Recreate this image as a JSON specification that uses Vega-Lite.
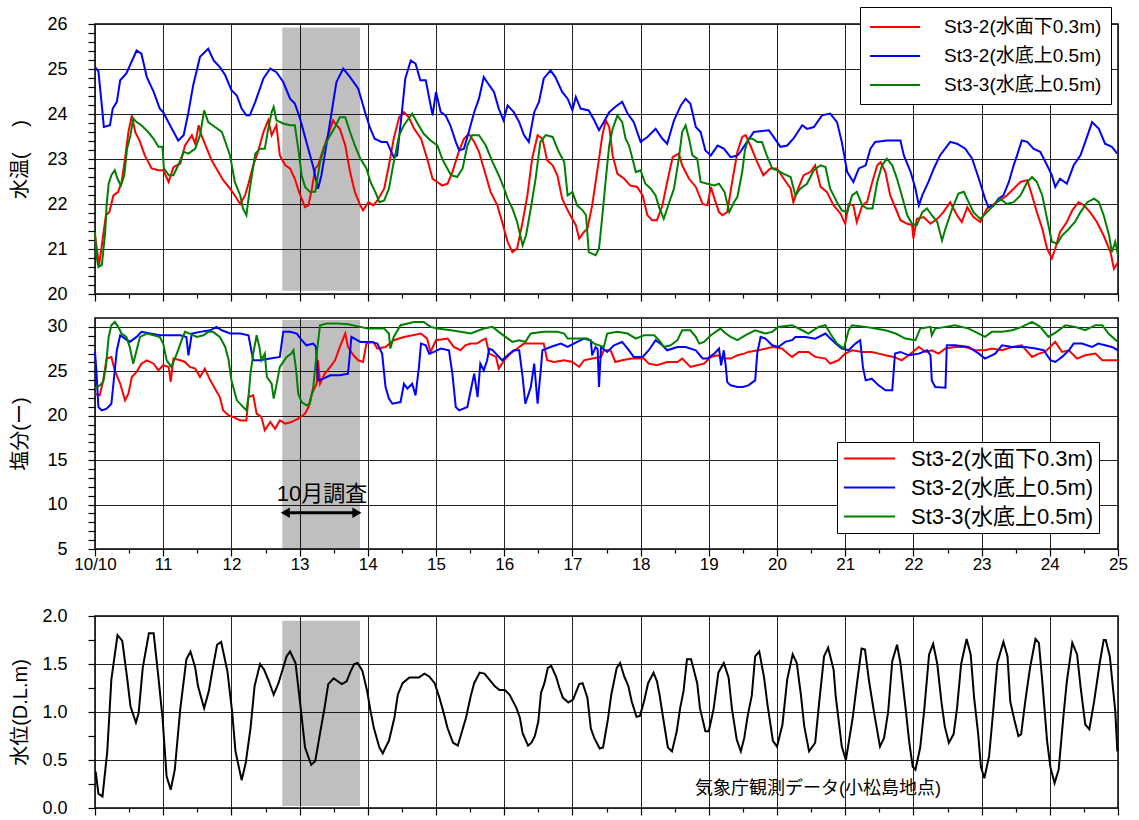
{
"$schema": "https://vega.github.io/schema/vega-lite/v6.json",
"background": "white",
"padding": {"left": 9, "top": 5, "right": 5, "bottom": 0},
"spacing": 13,
"config": {
  "font": "'Liberation Sans', 'Noto Sans CJK JP', sans-serif",
  "view": {"stroke": "#000", "strokeWidth": 1.5},
  "axis": {"labelFontSize": 18, "labelColor": "#000", "labelOverlap": false, "labelFlush": false, "tickColor": "#000", "tickWidth": 1.2, "domain": false, "titleFontSize": 20, "titleFontWeight": "normal", "titleColor": "#000", "gridColor": "#222", "gridWidth": 1},
  "legend": {"labelLimit": 400}
},
"resolve": {"scale": {"color": "independent"}, "legend": {"color": "independent"}},
"datasets": {
"shadeT": [{"t": 12.746, "t2": 13.886, "v": 20.07, "v2": 25.92}],
"shadeM": [{"t": 12.746, "t2": 13.886, "v": 5.0, "v2": 30.78}],
"shadeB": [{"t": 12.746, "t2": 13.886, "v": 0.02, "v2": 1.95}],
"tR": [{"t":10.0,"v":21.3},{"t":10.03,"v":20.97},{"t":10.06,"v":20.64},{"t":10.1,"v":21.08},{"t":10.16,"v":21.75},{"t":10.21,"v":21.82},{"t":10.27,"v":22.19},{"t":10.34,"v":22.27},{"t":10.39,"v":22.49},{"t":10.44,"v":23.01},{"t":10.49,"v":23.6},{"t":10.54,"v":23.97},{"t":10.59,"v":23.6},{"t":10.66,"v":23.38},{"t":10.73,"v":23.08},{"t":10.83,"v":22.79},{"t":10.93,"v":22.75},{"t":11.0,"v":22.75},{"t":11.08,"v":22.49},{"t":11.15,"v":22.82},{"t":11.25,"v":22.9},{"t":11.32,"v":23.3},{"t":11.42,"v":23.53},{"t":11.47,"v":23.34},{"t":11.52,"v":23.75},{"t":11.56,"v":23.53},{"t":11.64,"v":23.23},{"t":11.71,"v":22.97},{"t":11.78,"v":22.79},{"t":11.88,"v":22.53},{"t":11.98,"v":22.34},{"t":12.05,"v":22.19},{"t":12.13,"v":22.0},{"t":12.2,"v":22.19},{"t":12.25,"v":22.45},{"t":12.32,"v":22.86},{"t":12.39,"v":23.16},{"t":12.47,"v":23.6},{"t":12.54,"v":23.86},{"t":12.59,"v":23.53},{"t":12.66,"v":23.75},{"t":12.71,"v":23.08},{"t":12.79,"v":22.86},{"t":12.86,"v":22.79},{"t":12.93,"v":22.56},{"t":13.0,"v":22.23},{"t":13.08,"v":21.93},{"t":13.13,"v":21.97},{"t":13.18,"v":22.34},{"t":13.23,"v":22.79},{"t":13.27,"v":22.86},{"t":13.35,"v":23.23},{"t":13.42,"v":23.53},{"t":13.49,"v":23.86},{"t":13.54,"v":23.75},{"t":13.59,"v":23.67},{"t":13.67,"v":23.3},{"t":13.74,"v":22.71},{"t":13.81,"v":22.27},{"t":13.89,"v":21.97},{"t":13.93,"v":21.86},{"t":14.01,"v":22.04},{"t":14.08,"v":21.97},{"t":14.14,"v":22.08},{"t":14.24,"v":22.34},{"t":14.31,"v":22.86},{"t":14.38,"v":23.45},{"t":14.46,"v":23.93},{"t":14.53,"v":24.04},{"t":14.6,"v":23.93},{"t":14.68,"v":23.67},{"t":14.78,"v":23.45},{"t":14.87,"v":23.01},{"t":14.95,"v":22.56},{"t":15.02,"v":22.49},{"t":15.09,"v":22.41},{"t":15.17,"v":22.45},{"t":15.24,"v":22.71},{"t":15.34,"v":23.19},{"t":15.41,"v":23.45},{"t":15.48,"v":23.56},{"t":15.56,"v":23.38},{"t":15.63,"v":23.16},{"t":15.73,"v":22.64},{"t":15.8,"v":22.27},{"t":15.9,"v":21.97},{"t":15.97,"v":21.6},{"t":16.05,"v":21.16},{"t":16.12,"v":20.93},{"t":16.19,"v":21.01},{"t":16.27,"v":21.6},{"t":16.34,"v":22.19},{"t":16.41,"v":23.01},{"t":16.49,"v":23.53},{"t":16.56,"v":23.45},{"t":16.63,"v":22.97},{"t":16.71,"v":22.86},{"t":16.78,"v":22.64},{"t":16.85,"v":22.12},{"t":16.93,"v":21.86},{"t":16.97,"v":21.75},{"t":17.05,"v":21.53},{"t":17.1,"v":21.23},{"t":17.17,"v":21.38},{"t":17.22,"v":21.45},{"t":17.29,"v":21.97},{"t":17.37,"v":22.79},{"t":17.44,"v":23.53},{"t":17.49,"v":23.86},{"t":17.54,"v":23.71},{"t":17.59,"v":23.08},{"t":17.66,"v":22.67},{"t":17.76,"v":22.56},{"t":17.85,"v":22.41},{"t":17.95,"v":22.38},{"t":18.03,"v":22.19},{"t":18.1,"v":21.75},{"t":18.17,"v":21.64},{"t":18.24,"v":21.64},{"t":18.32,"v":21.97},{"t":18.39,"v":22.49},{"t":18.47,"v":23.04},{"t":18.56,"v":23.12},{"t":18.61,"v":22.86},{"t":18.71,"v":22.56},{"t":18.81,"v":22.38},{"t":18.91,"v":22.0},{"t":18.98,"v":21.97},{"t":19.03,"v":22.38},{"t":19.1,"v":22.04},{"t":19.15,"v":21.82},{"t":19.2,"v":21.75},{"t":19.27,"v":21.82},{"t":19.35,"v":22.56},{"t":19.42,"v":23.16},{"t":19.49,"v":23.49},{"t":19.54,"v":23.53},{"t":19.61,"v":23.3},{"t":19.71,"v":22.93},{"t":19.8,"v":22.64},{"t":19.9,"v":22.79},{"t":20.0,"v":22.79},{"t":20.1,"v":22.56},{"t":20.2,"v":22.34},{"t":20.24,"v":22.04},{"t":20.32,"v":22.38},{"t":20.39,"v":22.64},{"t":20.49,"v":22.71},{"t":20.56,"v":22.86},{"t":20.64,"v":22.38},{"t":20.73,"v":22.27},{"t":20.83,"v":21.97},{"t":20.93,"v":21.79},{"t":21.0,"v":21.56},{"t":21.05,"v":22.0},{"t":21.12,"v":21.97},{"t":21.17,"v":21.6},{"t":21.25,"v":21.97},{"t":21.32,"v":22.04},{"t":21.39,"v":22.45},{"t":21.47,"v":22.86},{"t":21.52,"v":22.93},{"t":21.59,"v":22.71},{"t":21.66,"v":22.19},{"t":21.74,"v":21.9},{"t":21.81,"v":21.64},{"t":21.91,"v":21.56},{"t":21.98,"v":21.53},{"t":22.0,"v":21.23},{"t":22.05,"v":21.67},{"t":22.15,"v":21.71},{"t":22.25,"v":21.56},{"t":22.35,"v":21.67},{"t":22.44,"v":21.82},{"t":22.54,"v":22.04},{"t":22.64,"v":21.75},{"t":22.71,"v":21.6},{"t":22.79,"v":21.93},{"t":22.88,"v":21.71},{"t":22.98,"v":21.6},{"t":23.08,"v":21.9},{"t":23.18,"v":22.0},{"t":23.27,"v":22.08},{"t":23.37,"v":22.19},{"t":23.47,"v":22.34},{"t":23.57,"v":22.49},{"t":23.67,"v":22.53},{"t":23.74,"v":22.19},{"t":23.81,"v":21.82},{"t":23.89,"v":21.45},{"t":23.96,"v":21.01},{"t":24.03,"v":20.79},{"t":24.08,"v":21.01},{"t":24.15,"v":21.38},{"t":24.25,"v":21.6},{"t":24.33,"v":21.86},{"t":24.42,"v":22.04},{"t":24.5,"v":21.97},{"t":24.59,"v":21.82},{"t":24.69,"v":21.6},{"t":24.79,"v":21.3},{"t":24.89,"v":20.93},{"t":24.94,"v":20.56},{"t":25.0,"v":20.71}],
"tB": [{"t":10.0,"v":25.04},{"t":10.05,"v":24.95},{"t":10.1,"v":24.19},{"t":10.13,"v":23.71},{"t":10.22,"v":23.75},{"t":10.26,"v":24.12},{"t":10.32,"v":24.27},{"t":10.37,"v":24.75},{"t":10.46,"v":24.9},{"t":10.61,"v":25.41},{"t":10.68,"v":25.34},{"t":10.76,"v":24.82},{"t":10.86,"v":24.49},{"t":10.95,"v":24.12},{"t":11.0,"v":24.04},{"t":11.1,"v":23.75},{"t":11.22,"v":23.41},{"t":11.3,"v":23.53},{"t":11.37,"v":24.04},{"t":11.44,"v":24.64},{"t":11.54,"v":25.27},{"t":11.66,"v":25.45},{"t":11.74,"v":25.19},{"t":11.83,"v":25.04},{"t":11.91,"v":24.86},{"t":12.0,"v":24.53},{"t":12.08,"v":24.41},{"t":12.15,"v":24.12},{"t":12.22,"v":23.97},{"t":12.27,"v":23.97},{"t":12.35,"v":24.27},{"t":12.47,"v":24.79},{"t":12.57,"v":25.01},{"t":12.66,"v":24.93},{"t":12.76,"v":24.71},{"t":12.86,"v":24.34},{"t":12.93,"v":24.23},{"t":13.0,"v":23.93},{"t":13.1,"v":23.38},{"t":13.2,"v":22.82},{"t":13.27,"v":22.34},{"t":13.32,"v":22.64},{"t":13.4,"v":23.38},{"t":13.47,"v":24.04},{"t":13.54,"v":24.71},{"t":13.64,"v":25.01},{"t":13.74,"v":24.82},{"t":13.86,"v":24.56},{"t":13.96,"v":24.04},{"t":14.03,"v":23.7},{"t":14.1,"v":23.45},{"t":14.2,"v":23.38},{"t":14.28,"v":23.38},{"t":14.38,"v":23.04},{"t":14.43,"v":23.08},{"t":14.5,"v":24.04},{"t":14.55,"v":24.79},{"t":14.63,"v":25.19},{"t":14.7,"v":25.12},{"t":14.77,"v":24.75},{"t":14.85,"v":24.75},{"t":14.95,"v":23.97},{"t":15.0,"v":24.49},{"t":15.07,"v":24.04},{"t":15.14,"v":23.97},{"t":15.21,"v":23.75},{"t":15.29,"v":23.38},{"t":15.34,"v":23.19},{"t":15.41,"v":23.23},{"t":15.48,"v":23.6},{"t":15.56,"v":24.04},{"t":15.63,"v":24.34},{"t":15.7,"v":24.82},{"t":15.78,"v":24.64},{"t":15.85,"v":24.49},{"t":15.92,"v":24.12},{"t":15.99,"v":23.86},{"t":16.05,"v":24.19},{"t":16.14,"v":24.04},{"t":16.22,"v":23.82},{"t":16.29,"v":23.53},{"t":16.36,"v":23.38},{"t":16.44,"v":24.04},{"t":16.51,"v":24.27},{"t":16.58,"v":24.79},{"t":16.68,"v":24.97},{"t":16.75,"v":24.82},{"t":16.85,"v":24.49},{"t":16.93,"v":24.34},{"t":17.0,"v":24.08},{"t":17.05,"v":24.38},{"t":17.12,"v":24.12},{"t":17.24,"v":24.08},{"t":17.32,"v":23.86},{"t":17.39,"v":23.64},{"t":17.46,"v":23.82},{"t":17.54,"v":24.04},{"t":17.63,"v":24.16},{"t":17.73,"v":24.27},{"t":17.81,"v":24.01},{"t":17.9,"v":23.82},{"t":18.0,"v":23.38},{"t":18.1,"v":23.49},{"t":18.22,"v":23.67},{"t":18.32,"v":23.45},{"t":18.39,"v":23.34},{"t":18.49,"v":23.86},{"t":18.59,"v":24.19},{"t":18.66,"v":24.34},{"t":18.73,"v":24.23},{"t":18.81,"v":23.71},{"t":18.88,"v":23.6},{"t":18.95,"v":23.19},{"t":19.03,"v":23.08},{"t":19.13,"v":23.3},{"t":19.22,"v":23.23},{"t":19.32,"v":23.04},{"t":19.42,"v":23.08},{"t":19.46,"v":23.15},{"t":19.56,"v":23.38},{"t":19.66,"v":23.6},{"t":19.88,"v":23.64},{"t":19.95,"v":23.49},{"t":20.05,"v":23.27},{"t":20.15,"v":23.3},{"t":20.24,"v":23.45},{"t":20.37,"v":23.75},{"t":20.44,"v":23.67},{"t":20.54,"v":23.71},{"t":20.66,"v":23.97},{"t":20.78,"v":24.01},{"t":20.88,"v":23.82},{"t":20.95,"v":23.38},{"t":21.03,"v":22.71},{"t":21.12,"v":22.49},{"t":21.2,"v":22.79},{"t":21.3,"v":22.86},{"t":21.37,"v":23.23},{"t":21.44,"v":23.38},{"t":21.61,"v":23.41},{"t":21.81,"v":23.41},{"t":21.86,"v":23.08},{"t":21.96,"v":22.71},{"t":22.03,"v":22.34},{"t":22.08,"v":21.97},{"t":22.13,"v":22.19},{"t":22.22,"v":22.49},{"t":22.3,"v":22.79},{"t":22.39,"v":23.08},{"t":22.54,"v":23.38},{"t":22.64,"v":23.34},{"t":22.76,"v":23.23},{"t":22.86,"v":23.01},{"t":22.96,"v":22.56},{"t":23.05,"v":22.12},{"t":23.1,"v":21.93},{"t":23.18,"v":21.97},{"t":23.25,"v":22.12},{"t":23.32,"v":22.19},{"t":23.4,"v":22.49},{"t":23.47,"v":22.86},{"t":23.52,"v":23.08},{"t":23.59,"v":23.41},{"t":23.67,"v":23.38},{"t":23.76,"v":23.23},{"t":23.86,"v":23.16},{"t":23.96,"v":22.86},{"t":24.03,"v":22.64},{"t":24.08,"v":22.38},{"t":24.15,"v":22.56},{"t":24.25,"v":22.45},{"t":24.35,"v":22.86},{"t":24.45,"v":23.08},{"t":24.52,"v":23.38},{"t":24.62,"v":23.82},{"t":24.72,"v":23.67},{"t":24.81,"v":23.34},{"t":24.91,"v":23.27},{"t":24.99,"v":23.12}],
"tG": [{"t":10.0,"v":21.38},{"t":10.02,"v":20.86},{"t":10.05,"v":20.6},{"t":10.1,"v":20.64},{"t":10.15,"v":21.38},{"t":10.17,"v":21.97},{"t":10.2,"v":22.45},{"t":10.24,"v":22.64},{"t":10.29,"v":22.75},{"t":10.33,"v":22.56},{"t":10.38,"v":22.41},{"t":10.43,"v":22.64},{"t":10.47,"v":23.23},{"t":10.52,"v":23.53},{"t":10.56,"v":23.9},{"t":10.61,"v":23.82},{"t":10.68,"v":23.75},{"t":10.78,"v":23.6},{"t":10.86,"v":23.45},{"t":10.93,"v":23.27},{"t":10.99,"v":23.27},{"t":11.01,"v":22.79},{"t":11.08,"v":22.64},{"t":11.15,"v":22.64},{"t":11.22,"v":22.86},{"t":11.3,"v":23.16},{"t":11.37,"v":23.12},{"t":11.47,"v":23.23},{"t":11.54,"v":23.53},{"t":11.6,"v":24.08},{"t":11.66,"v":23.82},{"t":11.76,"v":23.71},{"t":11.86,"v":23.6},{"t":11.93,"v":23.3},{"t":11.98,"v":23.08},{"t":12.05,"v":22.49},{"t":12.13,"v":22.19},{"t":12.17,"v":21.9},{"t":12.22,"v":21.75},{"t":12.27,"v":22.34},{"t":12.35,"v":23.12},{"t":12.42,"v":23.23},{"t":12.49,"v":23.23},{"t":12.54,"v":23.67},{"t":12.59,"v":24.04},{"t":12.62,"v":24.16},{"t":12.66,"v":23.86},{"t":12.76,"v":23.79},{"t":12.86,"v":23.75},{"t":12.93,"v":23.75},{"t":12.98,"v":23.23},{"t":13.03,"v":22.64},{"t":13.08,"v":22.38},{"t":13.15,"v":22.27},{"t":13.23,"v":22.27},{"t":13.3,"v":22.93},{"t":13.37,"v":23.3},{"t":13.45,"v":23.53},{"t":13.52,"v":23.71},{"t":13.59,"v":23.93},{"t":13.67,"v":23.93},{"t":13.74,"v":23.6},{"t":13.81,"v":23.3},{"t":13.89,"v":23.01},{"t":13.98,"v":22.79},{"t":14.04,"v":22.49},{"t":14.12,"v":22.23},{"t":14.17,"v":22.04},{"t":14.24,"v":22.08},{"t":14.31,"v":22.34},{"t":14.38,"v":22.93},{"t":14.46,"v":23.53},{"t":14.53,"v":23.75},{"t":14.65,"v":24.01},{"t":14.73,"v":23.79},{"t":14.82,"v":23.56},{"t":14.92,"v":23.41},{"t":15.02,"v":23.3},{"t":15.09,"v":23.01},{"t":15.14,"v":22.86},{"t":15.22,"v":22.64},{"t":15.31,"v":22.6},{"t":15.39,"v":22.79},{"t":15.46,"v":23.3},{"t":15.53,"v":23.53},{"t":15.63,"v":23.53},{"t":15.73,"v":23.3},{"t":15.83,"v":22.93},{"t":15.92,"v":22.64},{"t":16.0,"v":22.34},{"t":16.05,"v":22.12},{"t":16.12,"v":21.9},{"t":16.19,"v":21.6},{"t":16.27,"v":21.08},{"t":16.32,"v":21.3},{"t":16.39,"v":21.9},{"t":16.46,"v":22.56},{"t":16.53,"v":23.38},{"t":16.61,"v":23.53},{"t":16.71,"v":23.49},{"t":16.8,"v":23.16},{"t":16.88,"v":22.93},{"t":16.93,"v":22.19},{"t":17.0,"v":22.27},{"t":17.07,"v":21.97},{"t":17.15,"v":21.86},{"t":17.2,"v":21.75},{"t":17.24,"v":20.93},{"t":17.34,"v":20.86},{"t":17.39,"v":21.01},{"t":17.44,"v":21.75},{"t":17.49,"v":22.56},{"t":17.54,"v":23.3},{"t":17.59,"v":23.67},{"t":17.66,"v":23.97},{"t":17.73,"v":23.82},{"t":17.78,"v":23.45},{"t":17.83,"v":23.3},{"t":17.88,"v":23.01},{"t":17.93,"v":22.71},{"t":18.0,"v":22.75},{"t":18.07,"v":22.45},{"t":18.15,"v":22.34},{"t":18.22,"v":22.19},{"t":18.27,"v":21.93},{"t":18.34,"v":21.67},{"t":18.42,"v":22.04},{"t":18.49,"v":22.34},{"t":18.56,"v":23.01},{"t":18.61,"v":23.6},{"t":18.66,"v":23.75},{"t":18.71,"v":23.45},{"t":18.76,"v":23.08},{"t":18.83,"v":23.01},{"t":18.88,"v":22.49},{"t":18.98,"v":22.45},{"t":19.08,"v":22.41},{"t":19.15,"v":22.45},{"t":19.23,"v":22.27},{"t":19.3,"v":21.82},{"t":19.37,"v":22.04},{"t":19.42,"v":22.16},{"t":19.49,"v":22.71},{"t":19.53,"v":23.2},{"t":19.58,"v":23.45},{"t":19.64,"v":23.45},{"t":19.71,"v":23.38},{"t":19.78,"v":23.38},{"t":19.85,"v":23.08},{"t":19.93,"v":22.79},{"t":20.0,"v":22.75},{"t":20.1,"v":22.67},{"t":20.2,"v":22.6},{"t":20.27,"v":22.19},{"t":20.34,"v":22.34},{"t":20.44,"v":22.45},{"t":20.54,"v":22.75},{"t":20.64,"v":22.86},{"t":20.71,"v":22.82},{"t":20.78,"v":22.34},{"t":20.88,"v":22.04},{"t":20.95,"v":21.86},{"t":21.03,"v":21.82},{"t":21.1,"v":22.19},{"t":21.17,"v":22.27},{"t":21.25,"v":21.97},{"t":21.32,"v":21.9},{"t":21.4,"v":21.9},{"t":21.47,"v":22.49},{"t":21.54,"v":22.86},{"t":21.61,"v":23.01},{"t":21.69,"v":22.86},{"t":21.76,"v":22.56},{"t":21.83,"v":22.19},{"t":21.91,"v":21.75},{"t":21.98,"v":21.56},{"t":22.05,"v":21.53},{"t":22.13,"v":21.82},{"t":22.2,"v":21.9},{"t":22.27,"v":21.75},{"t":22.35,"v":21.6},{"t":22.42,"v":21.19},{"t":22.47,"v":21.45},{"t":22.57,"v":21.9},{"t":22.66,"v":22.23},{"t":22.74,"v":22.27},{"t":22.81,"v":22.04},{"t":22.88,"v":21.82},{"t":22.98,"v":21.67},{"t":23.08,"v":21.82},{"t":23.18,"v":21.97},{"t":23.27,"v":22.12},{"t":23.37,"v":22.0},{"t":23.47,"v":22.04},{"t":23.57,"v":22.19},{"t":23.67,"v":22.49},{"t":23.74,"v":22.6},{"t":23.81,"v":22.49},{"t":23.89,"v":22.19},{"t":23.96,"v":21.67},{"t":24.03,"v":21.16},{"t":24.11,"v":21.12},{"t":24.18,"v":21.3},{"t":24.28,"v":21.45},{"t":24.37,"v":21.6},{"t":24.45,"v":21.82},{"t":24.55,"v":22.04},{"t":24.65,"v":22.12},{"t":24.72,"v":22.04},{"t":24.79,"v":21.75},{"t":24.87,"v":21.3},{"t":24.91,"v":20.93},{"t":24.96,"v":21.16},{"t":25.0,"v":20.86}],
"sR": [{"t":10.0,"v":22.48},{"t":10.07,"v":22.3},{"t":10.12,"v":23.98},{"t":10.17,"v":26.43},{"t":10.24,"v":26.6},{"t":10.29,"v":25.1},{"t":10.37,"v":23.6},{"t":10.44,"v":21.73},{"t":10.49,"v":22.48},{"t":10.54,"v":24.36},{"t":10.61,"v":24.92},{"t":10.68,"v":25.86},{"t":10.76,"v":26.24},{"t":10.86,"v":25.86},{"t":10.93,"v":25.1},{"t":11.0,"v":25.68},{"t":11.08,"v":25.49},{"t":11.11,"v":23.8},{"t":11.15,"v":26.43},{"t":11.25,"v":26.24},{"t":11.32,"v":26.05},{"t":11.39,"v":25.49},{"t":11.47,"v":25.3},{"t":11.54,"v":24.36},{"t":11.61,"v":25.3},{"t":11.69,"v":23.98},{"t":11.76,"v":23.05},{"t":11.83,"v":22.1},{"t":11.88,"v":20.6},{"t":11.96,"v":20.04},{"t":12.03,"v":19.85},{"t":12.13,"v":19.47},{"t":12.22,"v":19.47},{"t":12.25,"v":22.1},{"t":12.32,"v":22.3},{"t":12.37,"v":20.23},{"t":12.44,"v":19.85},{"t":12.49,"v":18.35},{"t":12.57,"v":19.29},{"t":12.64,"v":18.53},{"t":12.71,"v":19.47},{"t":12.79,"v":19.1},{"t":12.88,"v":19.29},{"t":12.98,"v":19.66},{"t":13.08,"v":20.23},{"t":13.13,"v":20.98},{"t":13.18,"v":22.48},{"t":13.25,"v":23.6},{"t":13.27,"v":26.24},{"t":13.3,"v":23.6},{"t":13.37,"v":24.74},{"t":13.45,"v":25.49},{"t":13.52,"v":26.24},{"t":13.59,"v":27.74},{"t":13.67,"v":29.25},{"t":13.71,"v":27.74},{"t":13.79,"v":26.8},{"t":13.86,"v":26.24},{"t":13.93,"v":26.05},{"t":13.98,"v":28.12},{"t":14.08,"v":28.31},{"t":14.14,"v":27.56},{"t":14.26,"v":27.74},{"t":14.38,"v":28.5},{"t":14.53,"v":28.87},{"t":14.78,"v":29.25},{"t":14.87,"v":28.68},{"t":14.92,"v":27.18},{"t":15.0,"v":28.5},{"t":15.17,"v":28.68},{"t":15.26,"v":27.74},{"t":15.36,"v":27.37},{"t":15.43,"v":27.93},{"t":15.51,"v":28.12},{"t":15.6,"v":28.12},{"t":15.68,"v":28.5},{"t":15.73,"v":28.68},{"t":15.78,"v":26.99},{"t":15.88,"v":26.62},{"t":15.92,"v":25.3},{"t":16.0,"v":26.24},{"t":16.09,"v":26.99},{"t":16.19,"v":27.56},{"t":16.29,"v":28.12},{"t":16.44,"v":28.12},{"t":16.58,"v":28.12},{"t":16.63,"v":26.24},{"t":16.73,"v":26.05},{"t":16.88,"v":26.24},{"t":17.0,"v":26.05},{"t":17.1,"v":25.49},{"t":17.17,"v":26.24},{"t":17.29,"v":26.43},{"t":17.42,"v":26.62},{"t":17.46,"v":27.37},{"t":17.56,"v":27.37},{"t":17.63,"v":26.05},{"t":17.73,"v":26.24},{"t":17.86,"v":26.43},{"t":18.05,"v":26.43},{"t":18.12,"v":25.86},{"t":18.24,"v":25.68},{"t":18.39,"v":26.05},{"t":18.54,"v":26.05},{"t":18.61,"v":26.43},{"t":18.73,"v":25.49},{"t":18.83,"v":25.68},{"t":18.93,"v":25.86},{"t":19.03,"v":26.62},{"t":19.13,"v":26.8},{"t":19.22,"v":26.43},{"t":19.32,"v":26.43},{"t":19.42,"v":26.8},{"t":19.52,"v":26.99},{"t":19.58,"v":27.18},{"t":19.73,"v":27.37},{"t":19.93,"v":27.74},{"t":20.07,"v":27.56},{"t":20.22,"v":26.62},{"t":20.32,"v":27.18},{"t":20.46,"v":27.18},{"t":20.56,"v":26.62},{"t":20.71,"v":26.43},{"t":20.78,"v":25.86},{"t":20.9,"v":26.24},{"t":21.0,"v":26.99},{"t":21.1,"v":27.37},{"t":21.25,"v":27.18},{"t":21.39,"v":27.18},{"t":21.49,"v":26.99},{"t":21.59,"v":26.8},{"t":21.71,"v":26.62},{"t":21.83,"v":26.24},{"t":21.93,"v":26.8},{"t":22.08,"v":27.74},{"t":22.18,"v":27.18},{"t":22.27,"v":27.37},{"t":22.37,"v":26.99},{"t":22.47,"v":27.56},{"t":22.61,"v":27.74},{"t":22.76,"v":27.74},{"t":22.91,"v":27.37},{"t":23.05,"v":27.37},{"t":23.15,"v":27.56},{"t":23.3,"v":27.37},{"t":23.45,"v":27.74},{"t":23.59,"v":27.93},{"t":23.74,"v":26.62},{"t":23.84,"v":26.99},{"t":23.93,"v":27.18},{"t":24.08,"v":28.31},{"t":24.18,"v":27.18},{"t":24.28,"v":27.37},{"t":24.4,"v":26.43},{"t":24.52,"v":26.8},{"t":24.67,"v":26.99},{"t":24.77,"v":26.24},{"t":25.0,"v":26.24}],
"sB": [{"t":10.0,"v":27.18},{"t":10.02,"v":25.1},{"t":10.05,"v":20.98},{"t":10.1,"v":20.6},{"t":10.17,"v":20.79},{"t":10.24,"v":21.35},{"t":10.27,"v":23.6},{"t":10.32,"v":27.37},{"t":10.37,"v":29.06},{"t":10.44,"v":28.68},{"t":10.51,"v":28.31},{"t":10.61,"v":28.87},{"t":10.68,"v":29.44},{"t":10.81,"v":29.25},{"t":10.95,"v":29.06},{"t":11.25,"v":29.06},{"t":11.34,"v":28.87},{"t":11.37,"v":26.8},{"t":11.42,"v":29.25},{"t":11.54,"v":29.44},{"t":11.69,"v":29.62},{"t":11.78,"v":30.0},{"t":11.86,"v":29.62},{"t":11.98,"v":29.25},{"t":12.13,"v":29.25},{"t":12.25,"v":29.06},{"t":12.32,"v":26.24},{"t":12.42,"v":26.24},{"t":12.57,"v":26.43},{"t":12.71,"v":26.62},{"t":12.76,"v":29.44},{"t":12.86,"v":29.44},{"t":12.96,"v":29.25},{"t":13.03,"v":28.5},{"t":13.1,"v":27.93},{"t":13.2,"v":28.12},{"t":13.24,"v":27.74},{"t":13.27,"v":23.98},{"t":13.35,"v":24.17},{"t":13.45,"v":24.55},{"t":13.59,"v":24.55},{"t":13.71,"v":24.74},{"t":13.76,"v":28.87},{"t":13.89,"v":28.31},{"t":14.04,"v":28.31},{"t":14.14,"v":28.12},{"t":14.21,"v":26.99},{"t":14.26,"v":23.23},{"t":14.31,"v":21.92},{"t":14.36,"v":21.35},{"t":14.48,"v":21.54},{"t":14.53,"v":23.6},{"t":14.58,"v":23.05},{"t":14.65,"v":23.6},{"t":14.7,"v":22.29},{"t":14.75,"v":25.49},{"t":14.78,"v":28.12},{"t":14.85,"v":27.93},{"t":14.9,"v":26.99},{"t":14.97,"v":27.18},{"t":15.07,"v":27.56},{"t":15.19,"v":27.37},{"t":15.24,"v":24.74},{"t":15.29,"v":20.98},{"t":15.34,"v":20.6},{"t":15.46,"v":20.98},{"t":15.51,"v":22.86},{"t":15.56,"v":24.74},{"t":15.61,"v":22.1},{"t":15.65,"v":25.86},{"t":15.7,"v":25.1},{"t":15.75,"v":26.24},{"t":15.78,"v":27.56},{"t":15.83,"v":27.4},{"t":15.9,"v":26.8},{"t":15.97,"v":26.24},{"t":16.05,"v":26.8},{"t":16.14,"v":27.37},{"t":16.22,"v":27.37},{"t":16.27,"v":24.36},{"t":16.31,"v":21.35},{"t":16.39,"v":23.23},{"t":16.44,"v":25.86},{"t":16.49,"v":21.35},{"t":16.54,"v":25.49},{"t":16.56,"v":27.37},{"t":16.68,"v":27.74},{"t":16.83,"v":28.12},{"t":16.93,"v":27.74},{"t":17.02,"v":28.12},{"t":17.17,"v":28.68},{"t":17.27,"v":28.5},{"t":17.29,"v":26.8},{"t":17.34,"v":27.74},{"t":17.37,"v":27.5},{"t":17.39,"v":23.23},{"t":17.42,"v":27.74},{"t":17.51,"v":27.18},{"t":17.61,"v":27.93},{"t":17.73,"v":28.31},{"t":17.81,"v":27.56},{"t":17.9,"v":26.62},{"t":18.03,"v":26.62},{"t":18.12,"v":27.37},{"t":18.22,"v":28.5},{"t":18.32,"v":27.93},{"t":18.39,"v":27.37},{"t":18.54,"v":27.74},{"t":18.66,"v":27.74},{"t":18.81,"v":27.37},{"t":18.91,"v":26.43},{"t":18.98,"v":26.43},{"t":19.08,"v":26.99},{"t":19.15,"v":27.56},{"t":19.18,"v":25.68},{"t":19.22,"v":27.37},{"t":19.25,"v":25.49},{"t":19.27,"v":23.8},{"t":19.32,"v":23.42},{"t":19.42,"v":23.23},{"t":19.5,"v":23.23},{"t":19.58,"v":23.42},{"t":19.68,"v":23.98},{"t":19.71,"v":26.99},{"t":19.76,"v":28.87},{"t":19.83,"v":28.68},{"t":19.93,"v":27.93},{"t":20.02,"v":27.74},{"t":20.12,"v":28.31},{"t":20.22,"v":28.5},{"t":20.27,"v":28.87},{"t":20.42,"v":28.87},{"t":20.56,"v":28.68},{"t":20.71,"v":29.25},{"t":20.76,"v":28.87},{"t":20.86,"v":28.12},{"t":20.95,"v":27.56},{"t":21.05,"v":27.37},{"t":21.15,"v":28.12},{"t":21.22,"v":28.5},{"t":21.26,"v":25.49},{"t":21.3,"v":23.98},{"t":21.39,"v":24.17},{"t":21.49,"v":23.42},{"t":21.59,"v":22.86},{"t":21.69,"v":22.86},{"t":21.73,"v":26.99},{"t":21.81,"v":27.18},{"t":21.93,"v":26.8},{"t":22.08,"v":26.99},{"t":22.2,"v":27.37},{"t":22.25,"v":26.8},{"t":22.27,"v":23.98},{"t":22.32,"v":23.23},{"t":22.47,"v":23.15},{"t":22.49,"v":27.93},{"t":22.61,"v":27.93},{"t":22.81,"v":27.74},{"t":22.96,"v":26.99},{"t":23.05,"v":26.43},{"t":23.2,"v":26.99},{"t":23.3,"v":27.93},{"t":23.45,"v":27.74},{"t":23.64,"v":27.74},{"t":23.79,"v":27.56},{"t":23.91,"v":27.37},{"t":24.01,"v":26.24},{"t":24.08,"v":26.05},{"t":24.18,"v":26.62},{"t":24.28,"v":27.37},{"t":24.35,"v":28.12},{"t":24.47,"v":28.12},{"t":24.62,"v":27.74},{"t":24.71,"v":28.12},{"t":24.81,"v":27.93},{"t":24.91,"v":27.74},{"t":25.0,"v":27.37}],
"sG": [{"t":10.0,"v":23.05},{"t":10.07,"v":23.42},{"t":10.12,"v":23.8},{"t":10.16,"v":25.49},{"t":10.2,"v":28.87},{"t":10.24,"v":30.19},{"t":10.29,"v":30.56},{"t":10.34,"v":30.0},{"t":10.39,"v":29.25},{"t":10.46,"v":28.87},{"t":10.51,"v":27.74},{"t":10.56,"v":25.86},{"t":10.61,"v":27.37},{"t":10.66,"v":28.87},{"t":10.76,"v":29.25},{"t":10.86,"v":29.06},{"t":10.95,"v":28.87},{"t":11.0,"v":28.12},{"t":11.05,"v":26.24},{"t":11.12,"v":25.49},{"t":11.2,"v":26.99},{"t":11.27,"v":28.5},{"t":11.32,"v":29.44},{"t":11.39,"v":29.25},{"t":11.49,"v":28.87},{"t":11.59,"v":29.06},{"t":11.66,"v":29.44},{"t":11.73,"v":29.44},{"t":11.83,"v":28.87},{"t":11.91,"v":27.74},{"t":11.96,"v":26.24},{"t":12.0,"v":23.98},{"t":12.08,"v":21.73},{"t":12.15,"v":21.17},{"t":12.22,"v":20.6},{"t":12.25,"v":22.1},{"t":12.28,"v":24.74},{"t":12.32,"v":26.99},{"t":12.37,"v":29.06},{"t":12.41,"v":27.74},{"t":12.44,"v":26.24},{"t":12.49,"v":26.99},{"t":12.52,"v":24.36},{"t":12.59,"v":23.6},{"t":12.62,"v":21.92},{"t":12.66,"v":23.42},{"t":12.71,"v":25.49},{"t":12.81,"v":26.62},{"t":12.88,"v":26.99},{"t":12.91,"v":27.37},{"t":12.95,"v":25.1},{"t":12.98,"v":22.48},{"t":13.03,"v":21.54},{"t":13.1,"v":21.17},{"t":13.15,"v":21.35},{"t":13.2,"v":23.23},{"t":13.25,"v":26.99},{"t":13.3,"v":30.19},{"t":13.4,"v":30.38},{"t":13.55,"v":30.38},{"t":13.71,"v":30.3},{"t":13.89,"v":30.0},{"t":14.0,"v":29.81},{"t":14.24,"v":29.81},{"t":14.31,"v":29.25},{"t":14.33,"v":27.56},{"t":14.38,"v":28.87},{"t":14.48,"v":30.19},{"t":14.68,"v":30.56},{"t":14.82,"v":30.56},{"t":14.92,"v":30.0},{"t":15.02,"v":29.81},{"t":15.22,"v":29.62},{"t":15.36,"v":29.44},{"t":15.51,"v":29.25},{"t":15.7,"v":29.81},{"t":15.83,"v":30.0},{"t":15.92,"v":29.44},{"t":16.02,"v":28.87},{"t":16.12,"v":28.31},{"t":16.22,"v":28.5},{"t":16.31,"v":28.31},{"t":16.39,"v":29.25},{"t":16.58,"v":29.44},{"t":16.78,"v":29.44},{"t":16.88,"v":29.25},{"t":16.93,"v":28.68},{"t":17.07,"v":28.68},{"t":17.22,"v":28.68},{"t":17.32,"v":28.12},{"t":17.46,"v":27.74},{"t":17.51,"v":29.25},{"t":17.66,"v":29.44},{"t":17.81,"v":29.25},{"t":17.93,"v":28.68},{"t":18.05,"v":29.06},{"t":18.2,"v":29.06},{"t":18.29,"v":28.31},{"t":18.34,"v":27.74},{"t":18.44,"v":27.93},{"t":18.54,"v":28.5},{"t":18.61,"v":29.62},{"t":18.73,"v":29.62},{"t":18.81,"v":28.87},{"t":18.86,"v":28.12},{"t":18.93,"v":28.31},{"t":19.03,"v":29.06},{"t":19.17,"v":29.81},{"t":19.25,"v":29.25},{"t":19.32,"v":28.87},{"t":19.42,"v":28.5},{"t":19.54,"v":29.06},{"t":19.68,"v":29.62},{"t":19.83,"v":29.25},{"t":19.93,"v":29.44},{"t":20.02,"v":30.0},{"t":20.22,"v":30.19},{"t":20.37,"v":29.62},{"t":20.46,"v":29.25},{"t":20.61,"v":30.0},{"t":20.71,"v":30.19},{"t":20.78,"v":29.25},{"t":20.88,"v":28.12},{"t":20.98,"v":27.56},{"t":21.05,"v":29.62},{"t":21.1,"v":30.19},{"t":21.3,"v":30.0},{"t":21.44,"v":29.81},{"t":21.59,"v":29.62},{"t":21.74,"v":29.25},{"t":21.88,"v":28.68},{"t":22.03,"v":28.5},{"t":22.1,"v":29.81},{"t":22.25,"v":30.0},{"t":22.27,"v":29.06},{"t":22.32,"v":29.81},{"t":22.47,"v":30.0},{"t":22.61,"v":30.19},{"t":22.81,"v":29.81},{"t":22.96,"v":29.25},{"t":23.05,"v":28.87},{"t":23.15,"v":29.44},{"t":23.3,"v":29.44},{"t":23.45,"v":29.62},{"t":23.59,"v":30.0},{"t":23.74,"v":30.56},{"t":23.86,"v":30.0},{"t":23.98,"v":28.87},{"t":24.1,"v":29.44},{"t":24.23,"v":30.19},{"t":24.37,"v":30.0},{"t":24.52,"v":29.62},{"t":24.67,"v":30.19},{"t":24.77,"v":30.19},{"t":24.86,"v":29.25},{"t":25.0,"v":28.31}],
"wl": [{"t":10.01,"v":0.38},{"t":10.05,"v":0.15},{"t":10.11,"v":0.12},{"t":10.18,"v":0.59},{"t":10.24,"v":1.34},{"t":10.33,"v":1.8},{"t":10.4,"v":1.74},{"t":10.47,"v":1.36},{"t":10.52,"v":1.06},{"t":10.6,"v":0.89},{"t":10.64,"v":0.99},{"t":10.7,"v":1.46},{"t":10.79,"v":1.82},{"t":10.86,"v":1.82},{"t":10.93,"v":1.36},{"t":10.99,"v":0.94},{"t":11.05,"v":0.33},{"t":11.11,"v":0.19},{"t":11.17,"v":0.4},{"t":11.25,"v":1.03},{"t":11.34,"v":1.55},{"t":11.4,"v":1.63},{"t":11.47,"v":1.46},{"t":11.51,"v":1.27},{"t":11.6,"v":1.04},{"t":11.67,"v":1.22},{"t":11.72,"v":1.43},{"t":11.79,"v":1.7},{"t":11.85,"v":1.73},{"t":11.94,"v":1.43},{"t":12.01,"v":1.01},{"t":12.06,"v":0.59},{"t":12.15,"v":0.29},{"t":12.21,"v":0.47},{"t":12.28,"v":0.83},{"t":12.34,"v":1.27},{"t":12.42,"v":1.5},{"t":12.48,"v":1.44},{"t":12.55,"v":1.32},{"t":12.62,"v":1.18},{"t":12.69,"v":1.3},{"t":12.75,"v":1.44},{"t":12.81,"v":1.58},{"t":12.86,"v":1.63},{"t":12.94,"v":1.51},{"t":13.01,"v":1.08},{"t":13.08,"v":0.63},{"t":13.17,"v":0.45},{"t":13.23,"v":0.49},{"t":13.3,"v":0.78},{"t":13.37,"v":1.06},{"t":13.42,"v":1.29},{"t":13.5,"v":1.35},{"t":13.56,"v":1.32},{"t":13.62,"v":1.29},{"t":13.69,"v":1.32},{"t":13.74,"v":1.41},{"t":13.8,"v":1.5},{"t":13.85,"v":1.51},{"t":13.92,"v":1.43},{"t":13.99,"v":1.22},{"t":14.04,"v":1.01},{"t":14.09,"v":0.83},{"t":14.17,"v":0.63},{"t":14.22,"v":0.57},{"t":14.26,"v":0.63},{"t":14.31,"v":0.7},{"t":14.39,"v":0.94},{"t":14.44,"v":1.18},{"t":14.51,"v":1.3},{"t":14.61,"v":1.36},{"t":14.75,"v":1.36},{"t":14.83,"v":1.4},{"t":14.9,"v":1.37},{"t":14.98,"v":1.3},{"t":15.05,"v":1.15},{"t":15.12,"v":0.97},{"t":15.17,"v":0.83},{"t":15.25,"v":0.68},{"t":15.32,"v":0.65},{"t":15.37,"v":0.77},{"t":15.44,"v":0.94},{"t":15.51,"v":1.17},{"t":15.56,"v":1.3},{"t":15.64,"v":1.41},{"t":15.71,"v":1.4},{"t":15.78,"v":1.34},{"t":15.86,"v":1.27},{"t":15.93,"v":1.23},{"t":16.01,"v":1.23},{"t":16.08,"v":1.18},{"t":16.18,"v":1.04},{"t":16.23,"v":0.94},{"t":16.27,"v":0.78},{"t":16.35,"v":0.65},{"t":16.4,"v":0.68},{"t":16.45,"v":0.75},{"t":16.5,"v":0.9},{"t":16.54,"v":1.2},{"t":16.59,"v":1.3},{"t":16.64,"v":1.46},{"t":16.69,"v":1.48},{"t":16.76,"v":1.37},{"t":16.81,"v":1.25},{"t":16.86,"v":1.15},{"t":16.94,"v":1.1},{"t":17.01,"v":1.13},{"t":17.06,"v":1.22},{"t":17.1,"v":1.29},{"t":17.15,"v":1.3},{"t":17.22,"v":1.15},{"t":17.27,"v":0.83},{"t":17.32,"v":0.73},{"t":17.4,"v":0.62},{"t":17.45,"v":0.63},{"t":17.52,"v":0.92},{"t":17.57,"v":1.18},{"t":17.65,"v":1.46},{"t":17.7,"v":1.51},{"t":17.76,"v":1.37},{"t":17.82,"v":1.27},{"t":17.87,"v":1.11},{"t":17.94,"v":0.95},{"t":17.99,"v":0.96},{"t":18.05,"v":1.11},{"t":18.11,"v":1.3},{"t":18.19,"v":1.41},{"t":18.24,"v":1.32},{"t":18.28,"v":1.17},{"t":18.33,"v":0.94},{"t":18.4,"v":0.63},{"t":18.46,"v":0.59},{"t":18.53,"v":0.8},{"t":18.58,"v":1.04},{"t":18.63,"v":1.22},{"t":18.68,"v":1.55},{"t":18.74,"v":1.55},{"t":18.83,"v":1.3},{"t":18.87,"v":1.04},{"t":18.95,"v":0.8},{"t":19.0,"v":0.8},{"t":19.07,"v":1.03},{"t":19.14,"v":1.41},{"t":19.22,"v":1.51},{"t":19.29,"v":1.36},{"t":19.34,"v":1.03},{"t":19.41,"v":0.71},{"t":19.47,"v":0.59},{"t":19.52,"v":0.73},{"t":19.57,"v":0.96},{"t":19.63,"v":1.17},{"t":19.68,"v":1.58},{"t":19.74,"v":1.63},{"t":19.81,"v":1.36},{"t":19.86,"v":1.08},{"t":19.94,"v":0.7},{"t":20.0,"v":0.64},{"t":20.08,"v":0.87},{"t":20.15,"v":1.34},{"t":20.23,"v":1.6},{"t":20.29,"v":1.51},{"t":20.35,"v":1.18},{"t":20.4,"v":0.85},{"t":20.47,"v":0.59},{"t":20.56,"v":0.68},{"t":20.62,"v":1.11},{"t":20.69,"v":1.58},{"t":20.75,"v":1.67},{"t":20.83,"v":1.44},{"t":20.86,"v":1.17},{"t":20.95,"v":0.64},{"t":21.01,"v":0.5},{"t":21.11,"v":0.94},{"t":21.18,"v":1.34},{"t":21.24,"v":1.66},{"t":21.29,"v":1.65},{"t":21.35,"v":1.32},{"t":21.42,"v":1.01},{"t":21.51,"v":0.64},{"t":21.57,"v":0.73},{"t":21.63,"v":1.0},{"t":21.69,"v":1.53},{"t":21.76,"v":1.7},{"t":21.81,"v":1.51},{"t":21.89,"v":1.01},{"t":21.94,"v":0.68},{"t":21.99,"v":0.43},{"t":22.03,"v":0.4},{"t":22.1,"v":0.63},{"t":22.16,"v":1.03},{"t":22.23,"v":1.6},{"t":22.29,"v":1.71},{"t":22.35,"v":1.5},{"t":22.41,"v":1.11},{"t":22.46,"v":0.85},{"t":22.52,"v":0.68},{"t":22.59,"v":0.77},{"t":22.64,"v":1.04},{"t":22.7,"v":1.5},{"t":22.78,"v":1.76},{"t":22.84,"v":1.6},{"t":22.89,"v":1.15},{"t":22.95,"v":0.77},{"t":22.99,"v":0.43},{"t":23.04,"v":0.31},{"t":23.11,"v":0.54},{"t":23.17,"v":1.01},{"t":23.23,"v":1.51},{"t":23.32,"v":1.73},{"t":23.38,"v":1.58},{"t":23.42,"v":1.11},{"t":23.48,"v":0.92},{"t":23.54,"v":0.75},{"t":23.58,"v":0.77},{"t":23.64,"v":1.11},{"t":23.71,"v":1.46},{"t":23.79,"v":1.76},{"t":23.84,"v":1.72},{"t":23.89,"v":1.32},{"t":23.96,"v":0.7},{"t":24.01,"v":0.42},{"t":24.07,"v":0.26},{"t":24.13,"v":0.4},{"t":24.2,"v":0.96},{"t":24.25,"v":1.32},{"t":24.33,"v":1.72},{"t":24.4,"v":1.6},{"t":24.45,"v":1.27},{"t":24.52,"v":0.87},{"t":24.58,"v":0.82},{"t":24.65,"v":1.11},{"t":24.73,"v":1.5},{"t":24.79,"v":1.75},{"t":24.82,"v":1.75},{"t":24.88,"v":1.58},{"t":24.96,"v":1.01},{"t":24.99,"v":0.59}],
"survey": [{"t": 13.33, "v": 11.2, "label": "10月調査"}],
"arrow": [{"t": 12.8, "t2": 13.83, "v": 9.07}],
"headL": [{"t": 12.79, "v": 9.07}],
"headR": [{"t": 13.84, "v": 9.07}],
"note": [{"t": 20.6, "v": 0.2, "label": "気象庁観測データ(小松島地点)"}]
},
"vconcat": [
{
 "width": 1023, "height": 270,
 "layer": [
  {"data": {"name": "shadeT"}, "mark": {"type": "rect", "color": "#000", "opacity": 0.25},
   "encoding": {
    "x": {"field": "t", "type": "quantitative", "scale": {"domain": [10, 25], "nice": false, "zero": false},
      "axis": {"values": [10,10.5,11,11.5,12,12.5,13,13.5,14,14.5,15,15.5,16,16.5,17,17.5,18,18.5,19,19.5,20,20.5,21,21.5,22,22.5,23,23.5,24,24.5,25], "tickCount": 200, "labels": false, "title": null, "grid": true,
        "gridOpacity": {"condition": {"test": "datum.value % 1 === 0", "value": 1}, "value": 0},
        "tickSize": {"condition": {"test": "datum.value % 1 === 0", "value": 7}, "value": 4}}},
    "x2": {"field": "t2"},
    "y": {"field": "v", "type": "quantitative", "scale": {"domain": [20, 26], "nice": false, "zero": false},
      "axis": {"values": [20,20.2,20.4,20.6,20.8,21,21.2,21.4,21.6,21.8,22,22.2,22.4,22.6,22.8,23,23.2,23.4,23.6,23.8,24,24.2,24.4,24.6,24.8,25,25.2,25.4,25.6,25.8,26], "tickCount": 200,
        "labelExpr": "datum.value % 1 === 0 ? format(datum.value, 'd') : ''", "tickSize": 7, "labelPadding": 21, "grid": true,
        "gridOpacity": {"condition": {"test": "datum.value % 1 === 0", "value": 1}, "value": 0},
        "title": "水温(　 )", "titleX": -65}},
    "y2": {"field": "v2"}
   }},
  {"data": {"name": "tR"}, "mark": {"type": "line", "strokeWidth": 2},
   "encoding": {"x": {"field": "t", "type": "quantitative"}, "y": {"field": "v", "type": "quantitative"},
    "color": {"datum": "St3-2(水面下0.3m)", "type": "nominal",
      "scale": {"domain": ["St3-2(水面下0.3m)", "St3-2(水底上0.5m)", "St3-3(水底上0.5m)"], "range": ["#ff0000", "#0000ff", "#008000"]},
      "legend": {"title": null, "orient": "none", "legendX": 765, "legendY": -17, "symbolType": "M-2.5,0H2.5", "symbolSize": 400, "symbolOffset": 15, "symbolStrokeWidth": 2, "labelFontSize": 19, "labelOffset": 38, "rowPadding": 8, "padding": 9, "strokeColor": "#000", "fillColor": "#fff", "labelColor": "#000"}}}},
  {"data": {"name": "tB"}, "mark": {"type": "line", "strokeWidth": 2},
   "encoding": {"x": {"field": "t", "type": "quantitative"}, "y": {"field": "v", "type": "quantitative"},
    "color": {"datum": "St3-2(水底上0.5m)", "type": "nominal"}}},
  {"data": {"name": "tG"}, "mark": {"type": "line", "strokeWidth": 2},
   "encoding": {"x": {"field": "t", "type": "quantitative"}, "y": {"field": "v", "type": "quantitative"},
    "color": {"datum": "St3-3(水底上0.5m)", "type": "nominal"}}}
 ]
},
{
 "width": 1023, "height": 231,
 "layer": [
  {"data": {"name": "shadeM"}, "mark": {"type": "rect", "color": "#000", "opacity": 0.25},
   "encoding": {
    "x": {"field": "t", "type": "quantitative", "scale": {"domain": [10, 25], "nice": false, "zero": false},
      "axis": {"values": [10,10.5,11,11.5,12,12.5,13,13.5,14,14.5,15,15.5,16,16.5,17,17.5,18,18.5,19,19.5,20,20.5,21,21.5,22,22.5,23,23.5,24,24.5,25], "tickCount": 200,
        "labelExpr": "datum.value === 10 ? '10/10' : (datum.value % 1 === 0 ? format(datum.value, 'd') : '')", "labelFontSize": 17, "labelPadding": 0,
        "title": " ", "titleFontSize": 1, "titlePadding": 19, "grid": true,
        "gridOpacity": {"condition": {"test": "datum.value % 1 === 0", "value": 1}, "value": 0},
        "tickSize": {"condition": {"test": "datum.value % 1 === 0", "value": 7}, "value": 4}}},
    "x2": {"field": "t2"},
    "y": {"field": "v", "type": "quantitative", "scale": {"domain": [5, 31], "nice": false, "zero": false},
      "axis": {"values": [5,6,7,8,9,10,11,12,13,14,15,16,17,18,19,20,21,22,23,24,25,26,27,28,29,30], "tickCount": 200,
        "labelExpr": "datum.value % 5 === 0 ? format(datum.value, 'd') : ''", "tickSize": 7, "labelPadding": 21, "grid": true,
        "gridOpacity": {"condition": {"test": "datum.value % 5 === 0", "value": 1}, "value": 0},
        "title": "塩分(ー)", "titleX": -65}},
    "y2": {"field": "v2"}
   }},
  {"data": {"name": "sR"}, "mark": {"type": "line", "strokeWidth": 2},
   "encoding": {"x": {"field": "t", "type": "quantitative"}, "y": {"field": "v", "type": "quantitative"},
    "color": {"datum": "St3-2(水面下0.3m)", "type": "nominal",
      "scale": {"domain": ["St3-2(水面下0.3m)", "St3-2(水底上0.5m)", "St3-3(水底上0.5m)"], "range": ["#ff0000", "#0000ff", "#008000"]},
      "legend": {"title": null, "orient": "none", "legendX": 742, "legendY": 124, "symbolType": "M-2.5,0H2.5", "symbolSize": 420, "symbolOffset": 16, "symbolStrokeWidth": 2, "labelFontSize": 22, "labelOffset": 30, "rowPadding": 6, "padding": 5, "strokeColor": "#000", "fillColor": "#fff", "labelColor": "#000"}}}},
  {"data": {"name": "sB"}, "mark": {"type": "line", "strokeWidth": 2},
   "encoding": {"x": {"field": "t", "type": "quantitative"}, "y": {"field": "v", "type": "quantitative"},
    "color": {"datum": "St3-2(水底上0.5m)", "type": "nominal"}}},
  {"data": {"name": "sG"}, "mark": {"type": "line", "strokeWidth": 2},
   "encoding": {"x": {"field": "t", "type": "quantitative"}, "y": {"field": "v", "type": "quantitative"},
    "color": {"datum": "St3-3(水底上0.5m)", "type": "nominal"}}},
  {"data": {"name": "survey"}, "mark": {"type": "text", "fontSize": 22, "color": "#000", "baseline": "middle", "align": "center"},
   "encoding": {"x": {"field": "t", "type": "quantitative"}, "y": {"field": "v", "type": "quantitative"}, "text": {"field": "label"}}},
  {"data": {"name": "arrow"}, "mark": {"type": "rule", "strokeWidth": 3, "color": "#000"},
   "encoding": {"x": {"field": "t", "type": "quantitative"}, "x2": {"field": "t2"}, "y": {"field": "v", "type": "quantitative"}}},
  {"data": {"name": "headL"}, "mark": {"type": "point", "shape": "triangle-left", "filled": true, "size": 110, "color": "#000", "opacity": 1},
   "encoding": {"x": {"field": "t", "type": "quantitative"}, "y": {"field": "v", "type": "quantitative"}}},
  {"data": {"name": "headR"}, "mark": {"type": "point", "shape": "triangle-right", "filled": true, "size": 110, "color": "#000", "opacity": 1},
   "encoding": {"x": {"field": "t", "type": "quantitative"}, "y": {"field": "v", "type": "quantitative"}}}
 ]
},
{
 "width": 1023, "height": 192,
 "layer": [
  {"data": {"name": "shadeB"}, "mark": {"type": "rect", "color": "#000", "opacity": 0.25},
   "encoding": {
    "x": {"field": "t", "type": "quantitative", "scale": {"domain": [10, 25], "nice": false, "zero": false},
      "axis": {"values": [10,10.5,11,11.5,12,12.5,13,13.5,14,14.5,15,15.5,16,16.5,17,17.5,18,18.5,19,19.5,20,20.5,21,21.5,22,22.5,23,23.5,24,24.5,25], "tickCount": 200, "labels": false, "title": null, "grid": true,
        "gridOpacity": {"condition": {"test": "datum.value % 1 === 0", "value": 1}, "value": 0},
        "tickSize": {"condition": {"test": "datum.value % 1 === 0", "value": 7}, "value": 4}}},
    "x2": {"field": "t2"},
    "y": {"field": "v", "type": "quantitative", "scale": {"domain": [0, 2], "nice": false, "zero": false},
      "axis": {"values": [0,0.25,0.5,0.75,1,1.25,1.5,1.75,2], "tickCount": 200,
        "labelExpr": "datum.value % 0.5 === 0 ? format(datum.value, '.1f') : ''", "tickSize": 7, "labelPadding": 21, "grid": true,
        "gridOpacity": {"condition": {"test": "datum.value % 0.5 === 0", "value": 1}, "value": 0},
        "title": "水位(D.L.m)", "titleX": -65}},
    "y2": {"field": "v2"}
   }},
  {"data": {"name": "wl"}, "mark": {"type": "line", "strokeWidth": 2, "color": "#000"},
   "encoding": {"x": {"field": "t", "type": "quantitative"}, "y": {"field": "v", "type": "quantitative"}}},
  {"data": {"name": "note"}, "mark": {"type": "text", "fontSize": 18, "color": "#000", "baseline": "middle", "align": "center"},
   "encoding": {"x": {"field": "t", "type": "quantitative"}, "y": {"field": "v", "type": "quantitative"}, "text": {"field": "label"}}}
 ]
}
]
}
